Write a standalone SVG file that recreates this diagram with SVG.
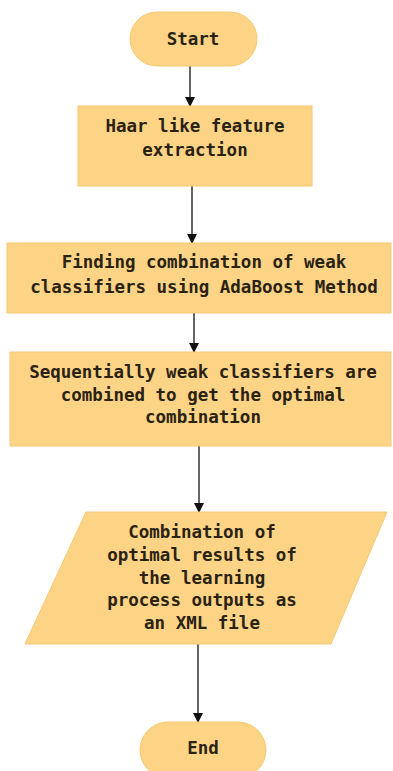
<svg xmlns="http://www.w3.org/2000/svg" width="393" height="771" viewBox="0 0 393 771">
<style>
.n{fill:#FDD486;stroke:#F6C872;stroke-width:1}
.t{font-family:"DejaVu Sans Mono","Liberation Mono",monospace;font-weight:bold;font-size:17.5px;fill:#2a2213;text-anchor:middle}
.c{stroke:#333;stroke-width:1.5;fill:none}
</style>
<defs>
<marker id="ah" markerWidth="10" markerHeight="10" refX="9" refY="5" orient="auto" markerUnits="userSpaceOnUse">
<path d="M0,0 L10,5 L0,10 Z" fill="#111"/>
</marker>
</defs>
<rect width="393" height="771" fill="#fff"/>
<g id="connectors">
<line class="c" x1="190" y1="66" x2="190" y2="106" marker-end="url(#ah)"/>
<line class="c" x1="192" y1="186" x2="192" y2="243" marker-end="url(#ah)"/>
<line class="c" x1="194" y1="313" x2="194" y2="352" marker-end="url(#ah)"/>
<line class="c" x1="199" y1="446" x2="199" y2="512" marker-end="url(#ah)"/>
<line class="c" x1="198" y1="644" x2="198" y2="722" marker-end="url(#ah)"/>
</g>
<g id="start">
<rect class="n" x="130" y="12" width="127" height="54" rx="27"/>
<text class="t" x="193" y="45">Start</text>
</g>
<g id="haar">
<rect class="n" x="78" y="106" width="234" height="80"/>
<text class="t" x="195" y="132">Haar like feature</text>
<text class="t" x="195" y="156">extraction</text>
</g>
<g id="adaboost">
<rect class="n" x="7" y="243" width="384" height="70"/>
<text class="t" x="204" y="268">Finding combination of weak</text>
<text class="t" x="204" y="293">classifiers using AdaBoost Method</text>
</g>
<g id="sequential">
<rect class="n" x="10" y="352" width="381" height="94"/>
<text class="t" x="203" y="378">Sequentially weak classifiers are</text>
<text class="t" x="203" y="401">combined to get the optimal</text>
<text class="t" x="203" y="423">combination</text>
</g>
<g id="output">
<polygon class="n" points="86,512 387,512 331,644 25,644"/>
<text class="t" x="202" y="538">Combination of</text>
<text class="t" x="202" y="561">optimal results of</text>
<text class="t" x="202" y="584">the learning</text>
<text class="t" x="202" y="606">process outputs as</text>
<text class="t" x="202" y="629">an XML file</text>
</g>
<g id="end">
<rect class="n" x="140" y="722" width="126" height="56" rx="28"/>
<text class="t" x="203" y="754">End</text>
</g>
</svg>
